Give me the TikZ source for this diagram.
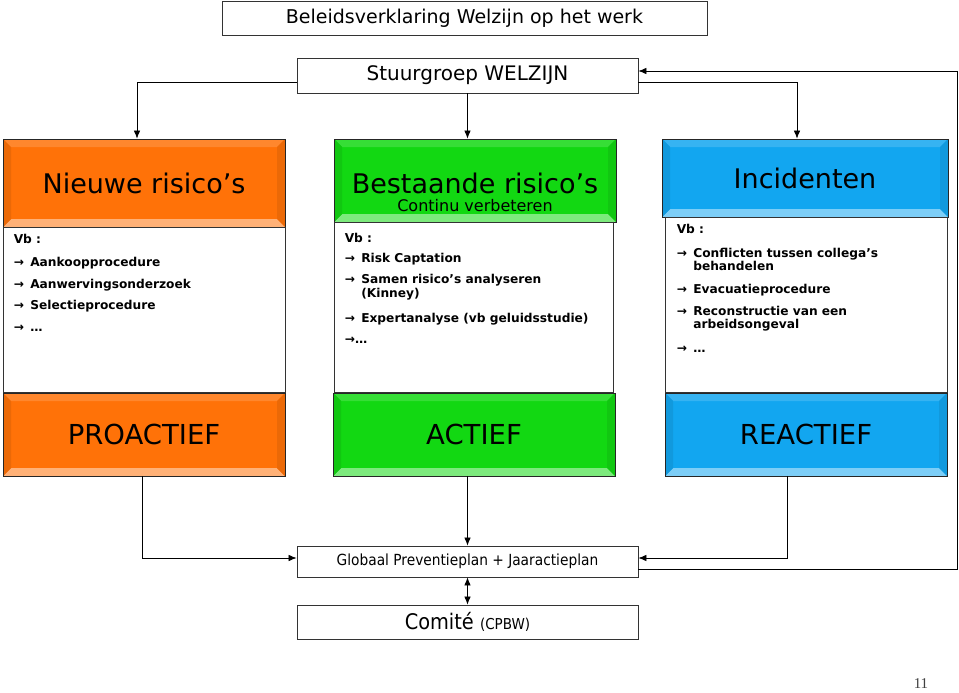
\documentclass[tikz,border=0pt]{standalone}
\usepackage{fontspec}
\setmainfont{DejaVu Sans}
\newfontfamily\smalfont{DejaVu Sans Condensed}
\newfontfamily\serieffont{Liberation Serif}
\usetikzlibrary{arrows.meta}

\definecolor{oranje}{HTML}{FF7208}
\definecolor{groen}{HTML}{12D812}
\definecolor{blauw}{HTML}{12A6F0}

\newcommand{\pijl}{\makebox[16.5pt][l]{→}}
\newcommand{\inspring}{\hspace*{16.5pt}}

\tikzset{
  kader/.style={draw=black!80, line width=0.8pt, fill=white, inner sep=0pt},
  bevel/.style={path picture={
      \path (path picture bounding box.south west) coordinate (bsw)
            (path picture bounding box.south east) coordinate (bse)
            (path picture bounding box.north east) coordinate (bne)
            (path picture bounding box.north west) coordinate (bnw);
      \fill[#1!55!white] (bsw) -- (bse) -- ([shift={(-8pt,8pt)}]bse) -- ([shift={(8pt,8pt)}]bsw) -- cycle;
      \fill[#1!85!white] (bnw) -- (bne) -- ([shift={(-8pt,-8pt)}]bne) -- ([shift={(8pt,-8pt)}]bnw) -- cycle;
      \fill[#1!92!black] (bsw) -- ([shift={(8pt,8pt)}]bsw) -- ([shift={(8pt,-8pt)}]bnw) -- (bnw) -- cycle;
      \fill[#1!92!black] (bse) -- ([shift={(-8pt,8pt)}]bse) -- ([shift={(-8pt,-8pt)}]bne) -- (bne) -- cycle;
    }},
  kop/.style={draw=black!85, line width=0.8pt, fill=#1, bevel=#1, inner sep=0pt},
  lijst/.style={anchor=north west, inner sep=0pt, align=left,
    font=\fontsize{12.2}{14}\selectfont\bfseries},
  pijlen/.style={-{Latex[length=8pt,width=6.5pt]}, line width=0.7pt},
  dubbel/.style={{Latex[length=8pt,width=6.5pt]}-{Latex[length=8pt,width=6.5pt]}, line width=0.7pt},
}

\begin{document}
\begin{tikzpicture}[x=1pt,y=-1pt]
  \useasboundingbox (0,0) rectangle (959,693);

  % Top boxes
  \node[kader, minimum width=485pt, minimum height=34pt, font=\fontsize{19}{21}\selectfont] (beleid) at (464.5,18) {Beleidsverklaring Welzijn op het werk};
  \node[kader, minimum width=341pt, minimum height=35pt, font=\fontsize{20}{22}\selectfont] (stuurgroep) at (467.5,75.5) {Stuurgroep WELZIJN};

  % Column 1
  \node[kop=oranje, minimum width=282pt, minimum height=88pt, font=\fontsize{27}{30}\selectfont] (nieuwe) at (144,183) {Nieuwe risico’s};
  \node[kader, minimum width=282pt, minimum height=165pt] (nieuwebody) at (144,309.5) {};
  \node[lijst] (nieuwelijst) at ([shift={(11pt,-7pt)}]nieuwebody.north west)
    {Vb :\\[9pt]
     \pijl Aankoopprocedure\\[8pt]
     \pijl Aanwervingsonderzoek\\[7pt]
     \pijl Selectieprocedure\\[8pt]
     \pijl …};
  \node[kop=oranje, minimum width=282pt, minimum height=83pt, font=\fontsize{27.5}{30}\selectfont] (proactief) at (144,434.5) {PROACTIEF};

  % Column 2
  \node[kop=groen, minimum width=282pt, minimum height=83pt] (bestaande) at (475,180.5) {};
  \node[align=center, inner sep=0pt, font=\fontsize{27}{18}\selectfont] (bestaandetitel) at (475,192)
    {Bestaande risico’s\\{\fontsize{16}{18}\selectfont Continu verbeteren}};
  \node[kader, minimum width=279pt, minimum height=170pt] (bestaandebody) at (473.5,307) {};
  \node[lijst] (bestaandelijst) at ([shift={(11pt,-11pt)}]bestaandebody.north west)
    {Vb :\\[6pt]
     \pijl Risk Captation\\[7pt]
     \pijl Samen risico’s analyseren\\
     \inspring (Kinney)\\[11pt]
     \pijl Expertanalyse (vb geluidsstudie)\\[7pt]
     →…};
  \node[kop=groen, minimum width=282pt, minimum height=83pt, font=\fontsize{27.5}{30}\selectfont] (actief) at (474,434.5) {ACTIEF};

  % Column 3
  \node[kop=blauw, minimum width=286pt, minimum height=78pt, font=\fontsize{27}{30}\selectfont] (incidenten) at (805,178) {Incidenten};
  \node[kader, minimum width=282pt, minimum height=175pt] (incidentenbody) at (806,304.5) {};
  \node[lijst] (incidentenlijst) at ([shift={(12pt,-7pt)}]incidentenbody.north west)
    {Vb :\\[10pt]
     \pijl Conflicten tussen collega’s\\[-1pt]
     \inspring behandelen\\[9pt]
     \pijl Evacuatieprocedure\\[8pt]
     \pijl Reconstructie van een\\[-1pt]
     \inspring arbeidsongeval\\[10pt]
     \pijl …};
  \node[kop=blauw, minimum width=282pt, minimum height=83pt, font=\fontsize{27.5}{30}\selectfont] (reactief) at (806,434.5) {REACTIEF};

  % Bottom boxes
  \node[kader, minimum width=341pt, minimum height=31pt, font=\smalfont\fontsize{15.3}{17}\selectfont] (globaal) at (467.5,561.5) {Globaal Preventieplan + Jaaractieplan};
  \node[kader, minimum width=341pt, minimum height=34pt, font=\smalfont\fontsize{21.5}{23}\selectfont] (comite) at (467.5,622) {Comité {\fontsize{15}{17}\selectfont(CPBW)}};

  % Connectors
  \draw[pijlen] ([yshift=-6.5pt]stuurgroep.west) -| ([xshift=-7pt]nieuwe.north);
  \draw[pijlen] (stuurgroep.south) -- (stuurgroep.south |- bestaande.north);
  \draw[pijlen] ([yshift=-6.5pt]stuurgroep.east) -| ([xshift=-8pt]incidenten.north);
  \draw[pijlen] ([xshift=-2pt]proactief.south) |- ([yshift=3.5pt]globaal.west);
  \draw[pijlen] (globaal.north |- actief.south) -- (globaal.north);
  \draw[pijlen] ([xshift=-19pt]reactief.south) |- ([yshift=3.5pt]globaal.east);
  \draw[pijlen] ([yshift=-7.5pt]globaal.east) -- ++(319,0) |- ([yshift=4.5pt]stuurgroep.east);
  \draw[dubbel] (globaal.south) -- (comite.north);

  % Page number
  \node[font=\serieffont\fontsize{15}{17}\selectfont, text=black!75, inner sep=0pt] (paginanr) at (921,684) {11};
\end{tikzpicture}
\end{document}
